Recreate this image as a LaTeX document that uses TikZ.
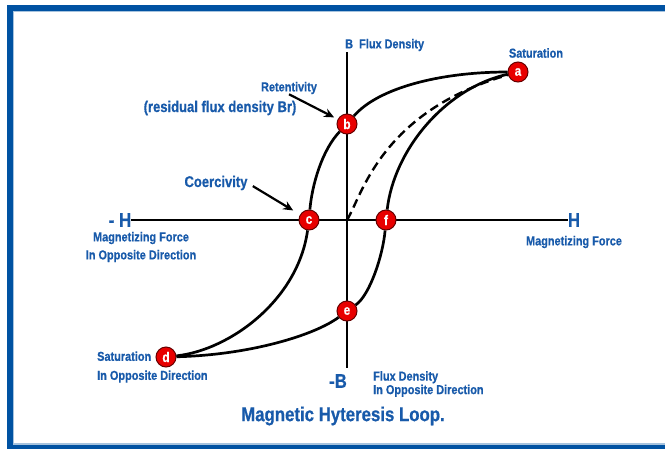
\documentclass[tikz,border=0pt]{standalone}
\usepackage{fontspec}
\setmainfont{Liberation Sans}[FakeStretch=0.84, FakeBold=0.6]
\usepackage{xcolor}
\usetikzlibrary{arrows.meta}

\definecolor{frameblue}{RGB}{0,82,162}
\definecolor{textblue}{RGB}{24,90,170}
\definecolor{ptred}{RGB}{232,0,0}

\tikzset{
  lbl/.style={text=textblue, inner sep=0pt, font=\bfseries\fontsize{13}{15}\selectfont},
  biglbl/.style={lbl, font=\bfseries\fontsize{15.5}{18}\selectfont},
  axlbl/.style={lbl, font=\bfseries\fontsize{20}{22}\selectfont},
  markpt/.style={circle, draw=black!60!red, fill=ptred, line width=1pt, minimum size=20pt,
    inner sep=0pt, text=white, font=\bfseries\fontsize{14}{14}\selectfont},
  curveline/.style={line width=2.7pt, black},
  axisline/.style={line width=2.5pt, black},
  arr/.style={->, line width=2.2pt}
}

\begin{document}
\begin{tikzpicture}[x=1pt, y=-1pt, >={Stealth[length=10pt,width=9pt]}]
    \clip (0,0) rectangle (665,448);
    \fill [white] (0,0) rectangle (665,448);
    % Frame
    \draw [frameblue, line width=6pt] (10,8) rectangle (680,447.5);
    \draw [frameblue!35, line width=1.2pt] (13.6,11.6) rectangle (680,443.9);
    % Axes
    \node [axlbl] (mH) at (120,220) {- H};
    \node [axlbl] (H) at (574,220) {H};
    \coordinate (Btop) at (347,52);
    \coordinate (Bbot) at (347,368);
    \coordinate (O) at (347,220);
    \draw [axisline] (mH.east) -- (H.west);
    \draw [axisline] (Btop) -- (Bbot);
    % Axis labels
    \node [lbl, anchor=west] (Blbl) at (345,45) {B~~Flux Density};
    \node [axlbl] (mB) at (338,381) {-B};
    \node [lbl, align=center, font=\bfseries\fontsize{13}{18}\selectfont] (Hneg) at (141,247)
        {Magnetizing Force\\In Opposite Direction};
    \node [lbl] (Hpos) at (574,242) {Magnetizing Force};
    \node [lbl, anchor=west, align=left, font=\bfseries\fontsize{13}{13.5}\selectfont] (Bneg) at (373,384)
        {Flux Density\\In Opposite Direction};
    % Points on the loop
    \node [markpt] (a) at (518,72) {a};
    \node [markpt] (b) at (347,124) {b};
    \node [markpt] (c) at (309,220) {c};
    \node [markpt] (d) at (166,357) {d};
    \node [markpt] (e) at (347,311) {e};
    \node [markpt] (f) at (386,220) {f};
    % Loop
    \draw [curveline] (a) .. controls (440,72) and (378,88) .. (b);
    \draw [curveline] (b) .. controls (322,150) and (312,185) .. (c);
    \draw [curveline] (c) .. controls (298,300) and (230,350) .. (d);
    \draw [curveline] (d) .. controls (250,355) and (315,335) .. (e);
    \draw [curveline] (e) .. controls (370,295) and (383,255) .. (f);
    \draw [curveline] (f) .. controls (394,150) and (445,88) .. (a);
    % Initial magnetization
    \draw [curveline, line width=2.4pt, dash pattern=on 9pt off 5pt] (O) .. controls (362,196) and (380,112) .. (a);
    % Point labels
    \node [lbl] (sat) at (536,53) {Saturation};
    \node [lbl] (ret) at (289,88) {Retentivity};
    \node [biglbl] (res) at (220,108) {(residual flux density Br)};
    \node [biglbl] (coe) at (216,183) {Coercivity};
    \node [lbl, anchor=west, align=left, font=\bfseries\fontsize{13}{19}\selectfont] (satneg) at (97,367)
        {Saturation\\In Opposite Direction};
    \draw [arr, shorten >=4pt] (ret.south) -- (b);
    \draw [arr, shorten <=6pt, shorten >=8pt] (coe.east) -- (c);
    % Title
    \node [lbl, font=\bfseries\fontsize{20}{22}\selectfont] (title) at (343,416) {Magnetic Hyteresis Loop.};
\end{tikzpicture}
\end{document}
